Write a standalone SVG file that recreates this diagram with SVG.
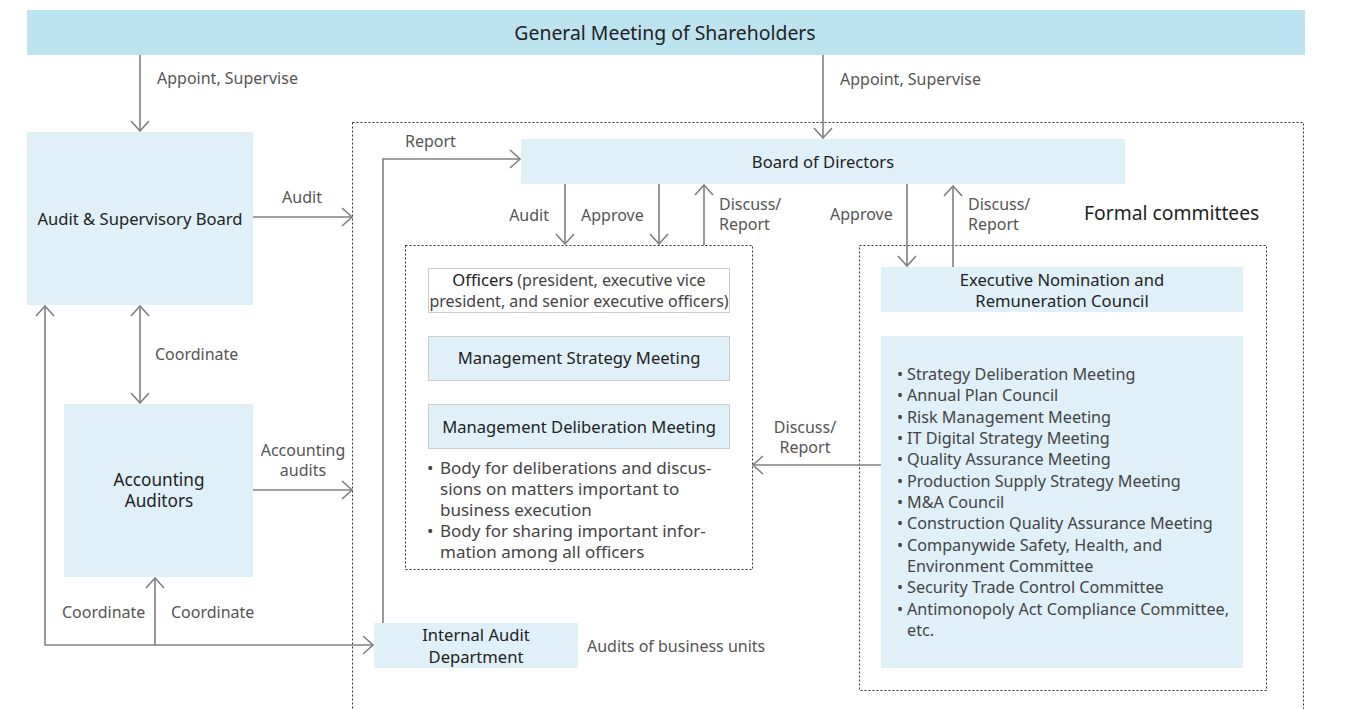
<svg xmlns="http://www.w3.org/2000/svg" width="1345" height="709" viewBox="0 0 1345 709">
<style>
text{font-family:"Noto Sans","Open Sans",sans-serif;}
.node{fill:#dff0f8;}
.top{fill:#bde3f1;}
.nt{fill:#222;font-size:16.6px;text-anchor:middle;}
.lb{fill:#555;font-size:16px;}
.lbm{fill:#555;font-size:16px;text-anchor:middle;}
.ln{fill:none;stroke:#808080;stroke-width:1.6;}
.dash{fill:none;stroke:#333;stroke-width:1;stroke-dasharray:2,2;}
.li{fill:#444;font-size:16.2px;}
.bd{fill:#444;font-size:17px;}
</style>
<defs>
<marker id="ah" viewBox="0 0 12 20" refX="11" refY="10" markerWidth="12" markerHeight="20" orient="auto" markerUnits="userSpaceOnUse">
<path d="M1,1 L11,10 L1,19" fill="none" stroke="#808080" stroke-width="1.6"/>
</marker>
<marker id="ahs" viewBox="0 0 12 20" refX="11" refY="10" markerWidth="12" markerHeight="20" orient="auto-start-reverse" markerUnits="userSpaceOnUse">
<path d="M1,1 L11,10 L1,19" fill="none" stroke="#808080" stroke-width="1.6"/>
</marker>
</defs>
<rect width="1345" height="709" fill="#fff"/>

<g id="containers">
<rect class="dash" x="352.5" y="122.5" width="951" height="600"/>
<rect class="dash" x="405.5" y="245.5" width="347" height="324"/>
<rect class="dash" x="859.5" y="245.5" width="407" height="445"/>
<text x="1084" y="220" fill="#222" font-size="19.3">Formal committees</text>
</g>

<g id="general-meeting">
<rect class="top" x="27" y="10" width="1278" height="45"/>
<text class="nt" x="665" y="40" style="font-size:19.4px">General Meeting of Shareholders</text>
</g>

<g id="audit-board">
<rect class="node" x="27" y="132" width="226" height="173"/>
<text class="nt" x="140" y="225">Audit &amp; Supervisory Board</text>
</g>

<g id="accounting-auditors">
<rect class="node" x="64" y="404" width="189" height="173"/>
<text class="nt" x="159" y="486" style="font-size:17.2px">Accounting<tspan x="159" dy="21">Auditors</tspan></text>
</g>

<g id="board-of-directors">
<rect class="node" x="521" y="139" width="604" height="45"/>
<text class="nt" x="823" y="168">Board of Directors</text>
</g>

<g id="officers">
<rect x="428.5" y="268.5" width="301" height="44" fill="#fff" stroke="#ccc"/>
<text x="579" y="286" fill="#444" font-size="16" text-anchor="middle"><tspan fill="#222" font-size="16.6">Officers</tspan> (president, executive vice<tspan x="579" dy="21">president, and senior executive officers)</tspan></text>
</g>

<g id="mgmt-strategy">
<rect x="428.5" y="336.5" width="301" height="44" class="node" stroke="#ccc"/>
<text class="nt" x="579" y="364">Management Strategy Meeting</text>
</g>

<g id="mgmt-deliberation">
<rect x="428.5" y="404.5" width="301" height="44" class="node" stroke="#ccc"/>
<text class="nt" x="579" y="433">Management Deliberation Meeting</text>
<text class="bd" x="427" y="474">•<tspan x="440">Body for deliberations and discus-</tspan><tspan x="440" dy="21">sions on matters important to</tspan><tspan x="440" dy="21">business execution</tspan><tspan x="427" dy="21">•</tspan><tspan x="440">Body for sharing important infor-</tspan><tspan x="440" dy="21">mation among all officers</tspan></text>
</g>

<g id="exec-nomination">
<rect class="node" x="881" y="267" width="362" height="45"/>
<text class="nt" x="1062" y="286">Executive Nomination and<tspan x="1062" dy="21">Remuneration Council</tspan></text>
</g>

<g id="committee-list">
<rect class="node" x="881" y="336" width="362" height="332"/>
<text class="li" x="897" y="380">•<tspan x="907">Strategy Deliberation Meeting</tspan><tspan x="897" y="401">•</tspan><tspan x="907">Annual Plan Council</tspan><tspan x="897" y="423">•</tspan><tspan x="907">Risk Management Meeting</tspan><tspan x="897" y="444">•</tspan><tspan x="907">IT Digital Strategy Meeting</tspan><tspan x="897" y="465">•</tspan><tspan x="907">Quality Assurance Meeting</tspan><tspan x="897" y="487">•</tspan><tspan x="907">Production Supply Strategy Meeting</tspan><tspan x="897" y="508">•</tspan><tspan x="907">M&amp;A Council</tspan><tspan x="897" y="529">•</tspan><tspan x="907">Construction Quality Assurance Meeting</tspan><tspan x="897" y="551">•</tspan><tspan x="907">Companywide Safety, Health, and</tspan><tspan x="907" y="572">Environment Committee</tspan><tspan x="897" y="593">•</tspan><tspan x="907">Security Trade Control Committee</tspan><tspan x="897" y="615">•</tspan><tspan x="907">Antimonopoly Act Compliance Committee,</tspan><tspan x="907" y="636">etc.</tspan></text>
</g>

<g id="internal-audit">
<rect class="node" x="374" y="623" width="204" height="45"/>
<text class="nt" x="476" y="641">Internal Audit<tspan x="476" dy="22">Department</tspan></text>
<text class="lb" x="587" y="652">Audits of business units</text>
</g>

<g id="connectors">
<line class="ln" x1="140" y1="55" x2="140" y2="131" marker-end="url(#ah)"/>
<text class="lb" x="157" y="84">Appoint, Supervise</text>
<line class="ln" x1="823" y1="55" x2="823" y2="138" marker-end="url(#ah)"/>
<text class="lb" x="840" y="85">Appoint, Supervise</text>

<line class="ln" x1="253" y1="217" x2="352" y2="217" marker-end="url(#ah)"/>
<text class="lbm" x="302" y="203">Audit</text>

<line class="ln" x1="140" y1="306" x2="140" y2="403" marker-start="url(#ahs)" marker-end="url(#ah)"/>
<text class="lb" x="155" y="360">Coordinate</text>

<line class="ln" x1="253" y1="490" x2="352" y2="490" marker-end="url(#ah)"/>
<text class="lbm" x="303" y="456">Accounting<tspan x="303" dy="20">audits</tspan></text>

<polyline class="ln" points="383,623 383,159 520,159" marker-end="url(#ah)"/>
<text class="lb" x="405" y="147">Report</text>

<line class="ln" x1="565" y1="184" x2="565" y2="244" marker-end="url(#ah)"/>
<text class="lb" x="549" y="221" text-anchor="end">Audit</text>
<line class="ln" x1="659" y1="184" x2="659" y2="244" marker-end="url(#ah)"/>
<text class="lb" x="581" y="221">Approve</text>
<line class="ln" x1="704" y1="245" x2="704" y2="185" marker-end="url(#ah)"/>
<text class="lb" x="719" y="210">Discuss/<tspan x="719" dy="20">Report</tspan></text>

<line class="ln" x1="907" y1="184" x2="907" y2="266" marker-end="url(#ah)"/>
<text class="lb" x="830" y="220">Approve</text>
<line class="ln" x1="953" y1="267" x2="953" y2="186" marker-end="url(#ah)"/>
<text class="lb" x="968" y="210">Discuss/<tspan x="968" dy="20">Report</tspan></text>

<line class="ln" x1="881" y1="465" x2="753" y2="465" marker-end="url(#ah)"/>
<text class="lbm" x="805" y="433">Discuss/<tspan x="805" dy="20">Report</tspan></text>

<polyline class="ln" points="45,306 45,645 373,645" marker-start="url(#ahs)" marker-end="url(#ah)"/>
<line class="ln" x1="155" y1="645" x2="155" y2="578" marker-end="url(#ah)"/>
<text class="lb" x="62" y="618">Coordinate</text>
<text class="lb" x="171" y="618">Coordinate</text>
</g>
</svg>
